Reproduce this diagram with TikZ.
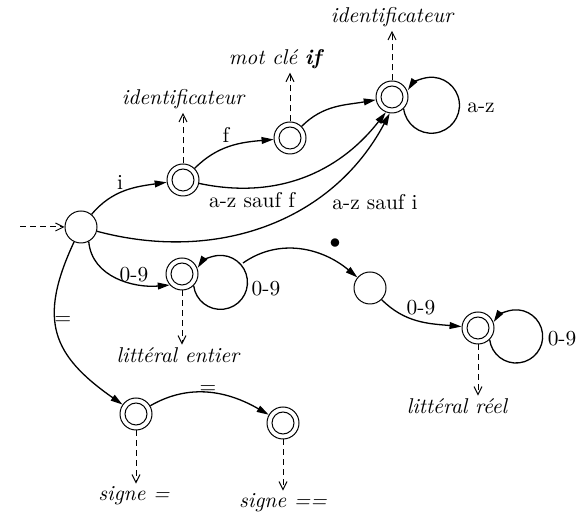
\documentclass[tikz,border=0pt]{standalone}
\usepackage{fontspec}
\usetikzlibrary{arrows.meta}
\begin{document}
\begin{tikzpicture}[x=0.5pt,y=0.5pt,
  every node/.style={font=\fontsize{10.7}{12.8}\selectfont},
  st/.style={circle,draw,line width=0.5pt,minimum size=16pt,inner sep=0pt},
  acc/.style={st,path picture={\draw[line width=0.5pt] (path picture bounding box.center) circle (5.5pt);}},
  tr/.style={line width=0.65pt,-{Triangle[length=6pt,width=3.4pt]}},
  tokarrow/.style={dash pattern=on 3pt off 2pt,line width=0.5pt,-{Straight Barb[length=4pt,width=4pt]}},
  tok/.style={inner sep=1.5pt,anchor=base,font=\fontsize{10.7}{12.8}\selectfont\itshape},
  lbl/.style={inner sep=1pt},
]
\useasboundingbox (0,0) rectangle (576,512);

% states
\node[st]  (S) at (81,285) {};
\node[acc] (A) at (183,332) {};
\node[acc] (B) at (290,374) {};
\node[acc] (C) at (392,415) {};
\node[acc] (D) at (182,238) {};
\node[st]  (E) at (370,224) {};
\node[acc] (F) at (478,184) {};
\node[acc] (G) at (136,98) {};
\node[acc] (H) at (283,89) {};

% token labels
\node[tok] (tA) at (183,407) {identificateur};
\node[tok] (tB) at (275,447) {mot clé \textbf{if}};
\node[tok] (tC) at (392,489) {identificateur};
\node[tok] (tD) at (178,149) {littéral entier};
\node[tok] (tF) at (457,98) {littéral réel};
\node[tok] (tG) at (134,11) {signe =};
\node[tok] (tH) at (283,4) {signe ==};

\draw[tokarrow] (A.north) -- (A.north |- tA.south);
\draw[tokarrow] (B.north) -- (B.north |- tB.south);
\draw[tokarrow] (C.north) -- (C.north |- tC.south);
\draw[tokarrow] (D.south) -- (D.south |- tD.north);
\draw[tokarrow] (F.south) -- (F.south |- tF.north);
\draw[tokarrow] (G.south) -- (G.south |- tG.north);
\draw[tokarrow] (H.south) -- (H.south |- tH.north);

% input
\coordinate (in0) at (20,285);
\draw[tokarrow] (in0) -- (S);

% transitions
\draw[tr] (S) to[out=50,in=188] (A);
\draw[tr] (A) to[out=45,in=185] (B);
\draw[tr] (B) to[out=45,in=190] (C);
\draw[tr] (A) to[out=-12,in=-128] (C.-112);
\draw[tr] (S) to[out=-15,in=-118] (C.-98);
\draw[tr] (S.-62) to[out=-85,in=185] (D.222);
\draw[tr] (S) to[out=-115,in=145,looseness=1.3] (G);
\draw[tr] (G) to[out=30,in=150] (H);
\draw[tr] (E) to[out=-45,in=175] (F);
\coordinate (dE) at (243,249);
\draw[tr] (dE) to[out=35,in=140] (E);

% loops
\draw[tr] (C.-45) arc[start angle=187, end angle=507, radius=14pt];
\draw[tr] (D.-45) arc[start angle=187, end angle=507, radius=13.5pt];
\draw[tr] (F.-45) arc[start angle=187, end angle=507, radius=13.3pt];

% edge labels
\node[lbl] (li)  at (120,330) {i};
\node[lbl] (lf)  at (226,377) {f};
\node[lbl] (lsf) at (252,312) {a-z sauf f};
\node[lbl] (lsi) at (375,310) {a-z sauf i};
\node[lbl] (laz) at (481,404) {a-z};
\node[lbl] (l09a) at (134,237) {0-9};
\node[lbl] (l09b) at (266,223) {0-9};
\node[lbl] (ldot) at (335,268) {$\bullet$};
\node[lbl] (l09c) at (421,204) {0-9};
\node[lbl] (l09d) at (562,173) {0-9};
\node[lbl] (leq1) at (63,191) {=};
\node[lbl] (leq2) at (208,122) {=};
\end{tikzpicture}
\end{document}
